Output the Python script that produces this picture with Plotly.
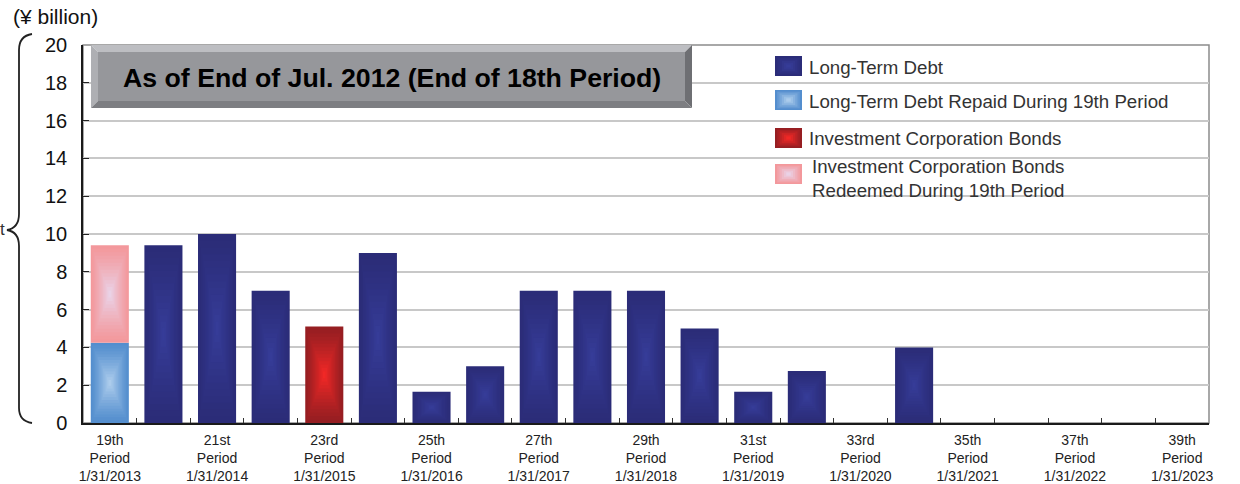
import plotly.graph_objects as go

# ---- data -------------------------------------------------------------
periods = ["19th", "20th", "21st", "22nd", "23rd", "24th", "25th", "26th",
           "27th", "28th", "29th", "30th", "31st", "32nd", "33rd", "34th",
           "35th", "36th", "37th", "38th", "39th"]
period_end = ["1/31/2013", "7/31/2013", "1/31/2014", "7/31/2014", "1/31/2015",
              "7/31/2015", "1/31/2016", "7/31/2016", "1/31/2017", "7/31/2017",
              "1/31/2018", "7/31/2018", "1/31/2019", "7/31/2019", "1/31/2020",
              "7/31/2020", "1/31/2021", "7/31/2021", "1/31/2022", "7/31/2022",
              "1/31/2023"]

long_term_debt = [0, 9.4, 10.0, 7.0, 0, 9.0, 1.65, 3.0, 7.0, 7.0, 7.0, 5.0,
                  1.65, 2.75, 0, 4.0, 0, 0, 0, 0, 0]
debt_repaid_19th = [4.25, 0, 0, 0, 0, 0, 0, 0, 0, 0, 0, 0,
                    0, 0, 0, 0, 0, 0, 0, 0, 0]
corporation_bonds = [0, 0, 0, 0, 5.1, 0, 0, 0, 0, 0, 0, 0,
                     0, 0, 0, 0, 0, 0, 0, 0, 0]
bonds_redeemed_19th = [5.15, 0, 0, 0, 0, 0, 0, 0, 0, 0, 0, 0,
                       0, 0, 0, 0, 0, 0, 0, 0, 0]

series_names = ["Long-Term Debt",
                "Long-Term Debt Repaid During 19th Period",
                "Investment Corporation Bonds",
                "Investment Corporation Bonds<br>Redeemed During 19th Period"]
series_values = [long_term_debt, debt_repaid_19th,
                 corporation_bonds, bonds_redeemed_19th]

# edge colour / centre colour of each series' box gradient
series_colors = [((43, 44, 120), (54, 60, 152)),
                 ((84, 142, 206), (172, 204, 236)),
                 ((150, 30, 34), (240, 40, 38)),
                 ((243, 152, 156), (234, 210, 230))]

title_text = "As of End of Jul. 2012 (End of 18th Period)"
unit_text = "(¥ billion)"

# ---- layout geometry (pixels) ----------------------------------------
W, H = 1240, 484
L, T, PW, PH = 83, 45, 1126, 378
BAR_W = 0.71
LAYERS = 14


def px(x):
    return (x - L) / PW


def py(y):
    return (T + PH - y) / PH


def mix(c0, c1, t):
    return "rgb(%d,%d,%d)" % tuple(round(a + (b - a) * t) for a, b in zip(c0, c1))


fig = go.Figure()

# ---- bars with a rectangular (centre-lit) gradient ----------------------
stack = [0.0] * len(periods)
for name, vals, (edge, centre) in zip(series_names, series_values, series_colors):
    xs = [p for p, v in zip(periods, vals) if v > 0]
    bases = [b for b, v in zip(stack, vals) if v > 0]
    hs = [v for v in vals if v > 0]
    for k in range(LAYERS):
        s = 1 - k / LAYERS
        t = (k / (LAYERS - 1)) ** 1.2
        fig.add_trace(go.Bar(
            x=xs, y=[h * s for h in hs],
            base=[b + h * (1 - s) / 2 for b, h in zip(bases, hs)],
            width=BAR_W * s,
            marker=dict(color=mix(edge, centre, t), line=dict(width=0)),
            name=name, showlegend=False, hoverinfo="skip"))
    stack = [a + v for a, v in zip(stack, vals)]

# ---- shapes: frame, title box, brace, legend swatches --------------------
shapes = [dict(type="rect", xref="paper", yref="paper", x0=0, x1=1, y0=0, y1=1,
               line=dict(color="#8C8C8C", width=1.5), layer="below")]


def poly(pts, color):
    d = "M " + " L ".join("%f,%f" % (px(x), py(y)) for x, y in pts) + " Z"
    return dict(type="path", xref="paper", yref="paper", path=d,
                fillcolor=color, line=dict(width=0), layer="above")


bx0, bx1, by0, by1, bv = 91, 692, 45, 108, 7
shapes += [
    poly([(bx0, by0), (bx1, by0), (bx1 - bv, by0 + bv), (bx0 + bv, by0 + bv)], "#BDBEC2"),
    poly([(bx0, by0), (bx0 + bv, by0 + bv), (bx0 + bv, by1 - bv), (bx0, by1)], "#AEAFB3"),
    poly([(bx1, by0), (bx1, by1), (bx1 - bv, by1 - bv), (bx1 - bv, by0 + bv)], "#6E6F73"),
    poly([(bx0, by1), (bx1, by1), (bx1 - bv, by1 - bv), (bx0 + bv, by1 - bv)], "#7D7E82"),
    poly([(bx0 + bv, by0 + bv), (bx1 - bv, by0 + bv), (bx1 - bv, by1 - bv), (bx0 + bv, by1 - bv)], "#96979B"),
]

# curly brace on the left
brace = [("M", 32, 34), ("Q", 19, 36, 19, 50), ("L", 19, 214), ("Q", 19, 228, 7, 230),
         ("Q", 19, 232, 19, 246), ("L", 19, 408), ("Q", 19, 421, 32, 423)]
d = ""
for seg in brace:
    cmd, nums = seg[0], seg[1:]
    coords = []
    for i in range(0, len(nums), 2):
        coords.append("%f,%f" % (px(nums[i]), py(nums[i + 1])))
    d += cmd + " " + " ".join(coords) + " "
shapes.append(dict(type="path", xref="paper", yref="paper", path=d,
                   line=dict(color="#222222", width=1.8), layer="above"))

# legend swatches (gradient squares)
legend_rows = [(56, 76), (90, 110), (128, 148), (164, 184)]
sw_x0, sw_x1 = 775, 802
for (y0, y1), (edge, centre) in zip(legend_rows, series_colors):
    n = 6
    for k in range(n):
        s = 1 - k / n
        cx, cy = (sw_x0 + sw_x1) / 2, (y0 + y1) / 2
        hw, hh = (sw_x1 - sw_x0) / 2 * s, (y1 - y0) / 2 * s
        shapes.append(dict(type="rect", xref="paper", yref="paper",
                           x0=px(cx - hw), x1=px(cx + hw), y0=py(cy + hh), y1=py(cy - hh),
                           fillcolor=mix(edge, centre, k / (n - 1)),
                           line=dict(width=0), layer="above"))

# ---- annotations -------------------------------------------------------
annotations = [
    dict(text="<b>%s</b>" % title_text, xref="paper", yref="paper",
         x=px((bx0 + bx1) / 2), y=py(78), xanchor="center", yanchor="middle",
         showarrow=False, font=dict(size=26.7, color="#000000", family="Liberation Sans")),
    dict(text=unit_text, xref="paper", yref="paper", x=px(11), y=py(17),
         xanchor="left", yanchor="middle", showarrow=False,
         font=dict(size=21, color="#111111")),
    dict(text="t", xref="paper", yref="paper", x=px(7), y=py(229),
         xanchor="right", yanchor="middle", showarrow=False,
         font=dict(size=17, color="#333333")),
]
legend_text_y = [68, 101, 138, 178]
legend_text_x = [807, 807, 807, 810]
for name, yy, lx in zip(series_names, legend_text_y, legend_text_x):
    annotations.append(dict(text=name, xref="paper", yref="paper",
                            x=px(lx), y=py(yy), xanchor="left", yanchor="middle",
                            align="left", showarrow=False,
                            font=dict(size=18.7, color="#333333")))

tick_text = ["%s<br>Period<br>%s" % (p, d) if i % 2 == 0 else ""
             for i, (p, d) in enumerate(zip(periods, period_end))]

fig.update_layout(
    width=W, height=H,
    margin=dict(l=L, r=W - L - PW, t=T, b=H - T - PH, pad=0, autoexpand=False),
    paper_bgcolor="white", plot_bgcolor="white",
    barmode="overlay",
    font=dict(family="Liberation Sans, Arial, sans-serif", color="#222222"),
    xaxis=dict(type="category", categoryorder="array", categoryarray=periods,
               range=[-0.5, len(periods) - 0.5],
               tickmode="array", tickvals=periods, ticktext=tick_text,
               tickangle=0, automargin=False, ticklabelstandoff=3,
               tickson="boundaries", ticks="inside", ticklen=5, tickwidth=1,
               tickcolor="#333333", showgrid=False,
               showline=True, linecolor="#1A1A1A", linewidth=1.5,
               tickfont=dict(size=14, color="#222222")),
    yaxis=dict(range=[0, 20], dtick=2, tick0=0, ticks="inside", ticklen=6,
               tickcolor="#222222", tickwidth=1, automargin=False,
               showgrid=True, gridcolor="#C8C8C8", gridwidth=1.5,
               zeroline=False, showline=True, linecolor="#1A1A1A", linewidth=1.5,
               ticklabelstandoff=10,
               tickfont=dict(size=20, color="#111111")),
    shapes=shapes, annotations=annotations, showlegend=False,
)

fig.write_html("out.html")
